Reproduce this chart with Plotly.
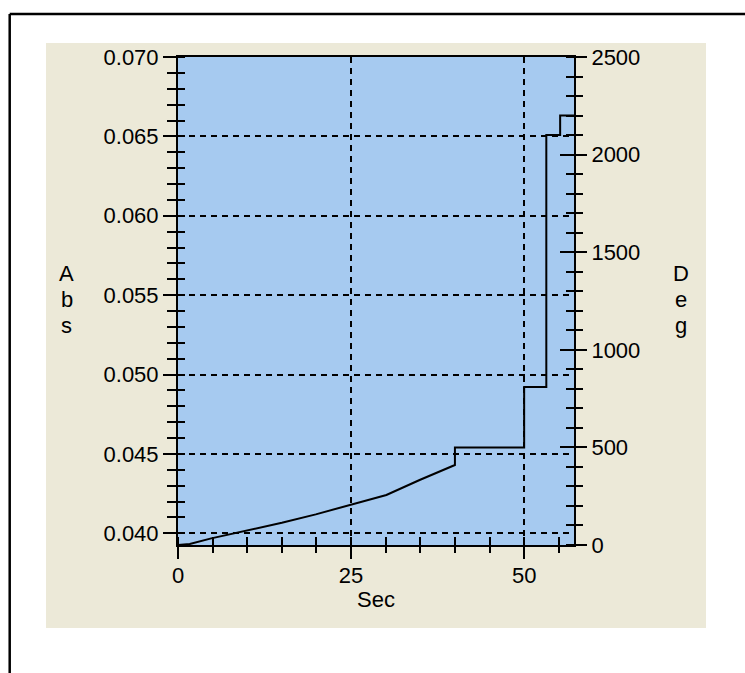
import plotly.graph_objects as go

# ---- data ----
sec = [0, 1.7, 4.8, 9.8, 15.0, 19.9, 24.8, 30.1, 34.9, 39.3, 40.0, 40.0,
       50.0, 50.0, 53.2, 53.2, 55.2, 55.2, 57.2]
deg = [0, 5, 34, 72, 114, 157, 205, 256, 333, 401, 410, 500,
       500, 810, 810, 2100, 2100, 2200, 2200]

x_range = [0, 57.2]
abs_range = [0.03926, 0.070]
deg_range = [0, 2500]
x_title = "Sec"
left_title = "Abs"
right_title = "Deg"

BEIGE = "#ECE9D8"
BLUE = "#A6CAF0"
FONT = "Liberation Sans, Arial, sans-serif"
TICKFONT = dict(family=FONT, size=22, color="black")

W, H = 745, 673
L, R, T, B = 178, 171, 57, 128
pw, ph = W - L - R, H - T - B


def px2paper_x(px):
    return (px - L) / pw


def px2paper_y(py):
    return (H - B - py) / ph


fig = go.Figure()

# data trace on right (Deg) axis
fig.add_trace(go.Scatter(x=sec, y=deg, xaxis="x", yaxis="y2", mode="lines",
                         line=dict(color="black", width=2), showlegend=False,
                         hoverinfo="skip"))
# invisible helpers so every axis is drawn
inv = dict(mode="markers", marker=dict(opacity=0), showlegend=False, hoverinfo="skip")
fig.add_trace(go.Scatter(x=[x_range[0]], y=[abs_range[0]], xaxis="x", yaxis="y", **inv))
fig.add_trace(go.Scatter(x=[x_range[0]], y=[abs_range[0]], xaxis="x", yaxis="y3", **inv))
fig.add_trace(go.Scatter(x=[x_range[0]], y=[deg_range[0]], xaxis="x", yaxis="y4", **inv))
fig.add_trace(go.Scatter(x=[x_range[0]], y=[abs_range[0]], xaxis="x2", yaxis="y", **inv))

axis_common = dict(showline=True, linecolor="black", linewidth=2,
                   tickcolor="black", tickwidth=2, zeroline=False,
                   tickfont=TICKFONT, fixedrange=True)

fig.update_layout(
    width=W, height=H, autosize=False,
    margin=dict(l=L, r=R, t=T, b=B, pad=0),
    paper_bgcolor="white", plot_bgcolor="rgba(0,0,0,0)",
    font=dict(family=FONT, color="black"),
    xaxis=dict(range=x_range, tick0=0, dtick=25, ticks="outside", ticklen=12,
               mirror=True, showgrid=True, gridcolor="black", gridwidth=2,
               griddash="6px,5px", ticklabelstandoff=-2,
               minor=dict(dtick=5, tick0=0, ticks="inside", ticklen=8,
                          tickwidth=2, tickcolor="black", showgrid=False),
               **axis_common),
    xaxis2=dict(range=x_range, overlaying="x", anchor="y", side="bottom",
                tick0=0, dtick=25, ticks="", showticklabels=False, showgrid=False,
                minor=dict(dtick=5, tick0=0, ticks="outside", ticklen=6,
                           tickwidth=2, tickcolor="black", showgrid=False),
                **axis_common),
    yaxis=dict(range=abs_range, tick0=0.04, dtick=0.005, tickformat=".3f",
               ticks="outside", ticklen=13, side="left", anchor="x",
               showgrid=True, gridcolor="black", gridwidth=2, griddash="6px,5px",
               minor=dict(dtick=0.001, tick0=0.04, ticks="inside", ticklen=7,
                          tickwidth=2, tickcolor="black", showgrid=False),
               **axis_common),
    yaxis3=dict(range=abs_range, overlaying="y", anchor="x", side="left",
                tick0=0.04, dtick=0.005, ticks="inside", ticklen=7,
                showticklabels=False, showgrid=False,
                minor=dict(dtick=0.001, tick0=0.04, ticks="outside", ticklen=9,
                           tickwidth=2, tickcolor="black", showgrid=False),
                **axis_common),
    yaxis2=dict(range=deg_range, overlaying="y", anchor="x", side="right",
                tick0=0, dtick=500, ticks="outside", ticklen=11, showgrid=False,
                minor=dict(dtick=100, tick0=0, ticks="inside", ticklen=8,
                           tickwidth=2, tickcolor="black", showgrid=False),
                **axis_common),
    yaxis4=dict(range=deg_range, overlaying="y", anchor="x", side="right",
                tick0=0, dtick=500, ticks="inside", ticklen=14,
                showticklabels=False, showgrid=False,
                minor=dict(dtick=100, tick0=0, ticks="outside", ticklen=7,
                           tickwidth=2, tickcolor="black", showgrid=False),
                **axis_common),
)

shapes = [
    # beige panel
    dict(type="rect", xref="paper", yref="paper", layer="below",
         x0=px2paper_x(46), x1=px2paper_x(706), y0=px2paper_y(628), y1=px2paper_y(43),
         fillcolor=BEIGE, line=dict(width=0)),
    # blue plot area
    dict(type="rect", xref="paper", yref="paper", layer="below",
         x0=0, x1=1, y0=0, y1=1, fillcolor=BLUE, line=dict(width=0)),
    # outer black frame (top and left edges visible)
    dict(type="line", xref="paper", yref="paper", layer="above",
         x0=px2paper_x(9.7), x1=px2paper_x(746), y0=px2paper_y(14), y1=px2paper_y(14),
         line=dict(color="black", width=2.5)),
    dict(type="line", xref="paper", yref="paper", layer="above",
         x0=px2paper_x(9.7), x1=px2paper_x(9.7), y0=px2paper_y(14), y1=px2paper_y(674),
         line=dict(color="black", width=2.5)),
]
fig.update_layout(shapes=shapes)

title_font = dict(family=FONT, size=22, color="black")
# vertical stacked titles, one letter per line (26 px line pitch)
for i, ch in enumerate(left_title):
    fig.add_annotation(text=ch, xref="paper", yref="paper",
                       x=px2paper_x(66.7), y=px2paper_y(273 + 26 * i), showarrow=False,
                       xanchor="center", yanchor="middle", font=title_font)
for i, ch in enumerate(right_title):
    fig.add_annotation(text=ch, xref="paper", yref="paper",
                       x=px2paper_x(681), y=px2paper_y(273 + 26 * i), showarrow=False,
                       xanchor="center", yanchor="middle", font=title_font)
fig.add_annotation(text=x_title, xref="paper", yref="paper",
                   x=0.5, y=px2paper_y(599), showarrow=False,
                   xanchor="center", yanchor="middle", font=title_font)

fig.write_html("out.html")
